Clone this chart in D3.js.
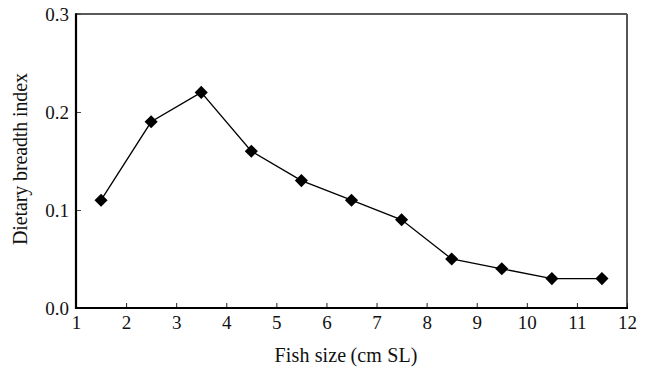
<!DOCTYPE html>
<html>
<head>
<meta charset="utf-8">
<script src="https://cdn.jsdelivr.net/npm/d3@7"></script>
<style>
  html, body { margin: 0; padding: 0; background: #fff; }
  svg { display: block; font-family: 'Liberation Serif', 'DejaVu Serif', serif; }
</style>
</head>
<body>
<svg></svg>
<script>
// chart data
var fishSize = [1.5, 2.5, 3.5, 4.5, 5.5, 6.5, 7.5, 8.5, 9.5, 10.5, 11.5]
var breadth = [0.11, 0.19, 0.22, 0.16, 0.13, 0.11, 0.09, 0.05, 0.04, 0.03, 0.03]
var xTicks = [1, 2, 3, 4, 5, 6, 7, 8, 9, 10, 11, 12]
var yTicks = [0, 0.1, 0.2, 0.3]

var w = 652
var h = 371
var pLeft = 76, pRight = 627, pTop = 14, pBottom = 308

var svg = d3.select('svg')
    .attr('width', w)
    .attr('height', h)

var x = d3.scaleLinear().domain([1, 12]).range([pLeft, pRight])
var y = d3.scaleLinear().domain([0, 0.3]).range([pBottom, pTop])

// frame: top and right borders
svg.append('line')
  .attr('x1', pLeft).attr('x2', pRight)
  .attr('y1', pTop).attr('y2', pTop)
  .attr('stroke', '#222').attr('stroke-width', 1.5)
svg.append('line')
  .attr('x1', pRight).attr('x2', pRight)
  .attr('y1', pTop).attr('y2', pBottom)
  .attr('stroke', '#555').attr('stroke-width', 2)

// axes with inward ticks
var xAxis = d3.axisBottom(x)
  .tickValues(xTicks)
  .tickSize(-5)
  .tickPadding(8)
  .tickFormat(d3.format('d'))

var gx = svg.append('g')
  .attr('transform', 'translate(0,' + pBottom + ')')
  .call(xAxis)
gx.select('.domain').remove()
gx.selectAll('.tick line').attr('stroke', '#222').attr('stroke-width', 1)
gx.selectAll('.tick text')
  .style('font-size', '19px')
  .attr('fill', '#111')
  .attr('font-family', 'Liberation Serif')

var yAxis = d3.axisLeft(y)
  .tickValues(yTicks)
  .tickSize(-5)
  .tickPadding(7)
  .tickFormat(d3.format('.1f'))

var gy = svg.append('g')
  .attr('transform', 'translate(' + pLeft + ',0)')
  .call(yAxis)
gy.select('.domain').remove()
gy.selectAll('.tick line').attr('stroke', '#444').attr('stroke-width', 1)
gy.selectAll('.tick text')
  .style('font-size', '19px')
  .attr('fill', '#111')
  .attr('font-family', 'Liberation Serif')

// thick left and bottom axis lines
svg.append('line')
  .attr('x1', pLeft).attr('x2', pRight + 1)
  .attr('y1', pBottom).attr('y2', pBottom)
  .attr('stroke', '#000').attr('stroke-width', 2.2)
svg.append('line')
  .attr('x1', pLeft).attr('x2', pLeft)
  .attr('y1', pTop - 0.75).attr('y2', pBottom + 1)
  .attr('stroke', '#000').attr('stroke-width', 2.2)

// series
var pts = fishSize.map(function (d, i) { return [d, breadth[i]] })

var line = d3.line()
  .x(function (d) { return x(d[0]) })
  .y(function (d) { return y(d[1]) })

svg.append('path')
  .datum(pts)
  .attr('d', line)
  .attr('fill', 'none')
  .attr('stroke', '#000')
  .attr('stroke-width', 1.3)

var diamond = d3.symbol().type(d3.symbolSquare).size(86)

svg.selectAll('.pt')
  .data(pts)
  .enter()
  .append('path')
  .attr('class', 'pt')
  .attr('d', diamond)
  .attr('transform', function (d) {
    return 'translate(' + x(d[0]) + ',' + y(d[1]) + ') rotate(45)'
  })
  .attr('fill', '#000')

// axis titles
svg.append('text')
  .text('Fish size\u2009(cm SL)')
  .attr('x', 346)
  .attr('y', 362)
  .attr('text-anchor', 'middle')
  .attr('textLength', 143)
  .attr('lengthAdjust', 'spacing')
  .style('font-size', '20px')
  .attr('fill', '#111')

svg.append('text')
  .text('Dietary breadth index')
  .attr('transform', 'translate(27,159) rotate(-90)')
  .attr('text-anchor', 'middle')
  .attr('textLength', 172)
  .attr('lengthAdjust', 'spacing')
  .style('font-size', '20px')
  .attr('fill', '#111')
</script>
</body>
</html>
